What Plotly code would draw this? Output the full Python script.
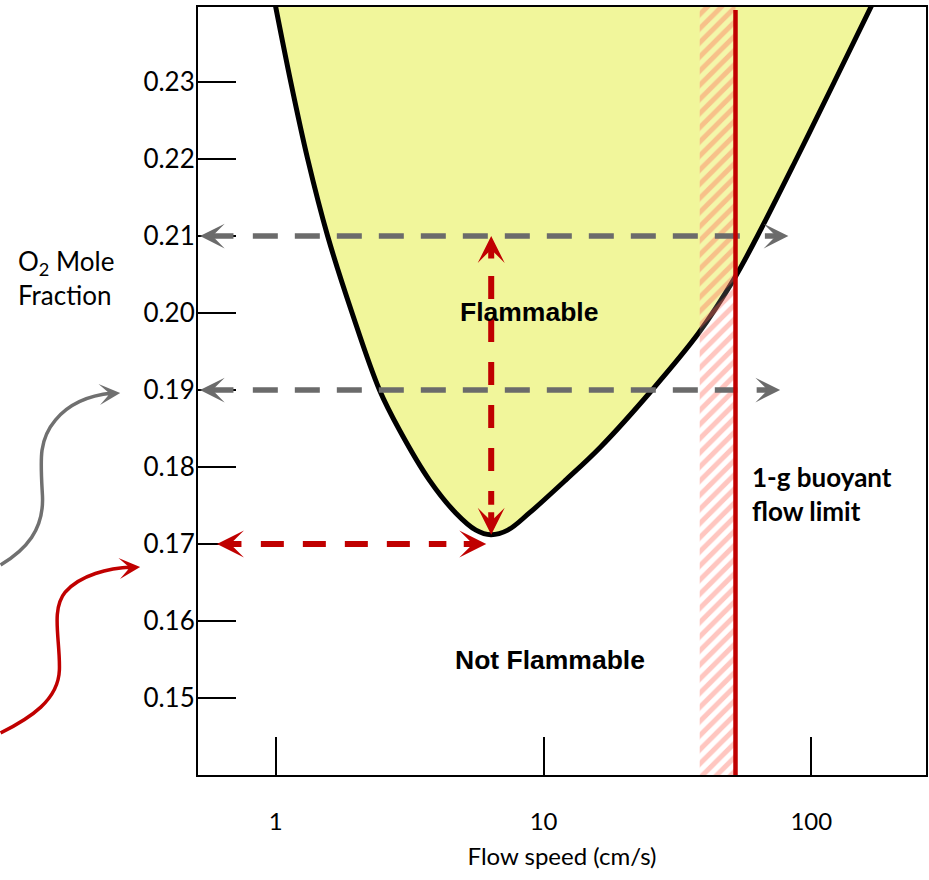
import numpy as np
import plotly.graph_objects as go

# ---- data ----
# flammability boundary (flow speed cm/s, O2 mole fraction)
curve_speed = [0.9337, 1.1374, 1.3156, 1.5619, 1.9275, 2.4398, 2.8964, 3.7458, 4.7098,
               5.5915, 6.3587, 7.35, 8.8308, 12.098, 16.332, 25.419, 37.944, 51.224,
               62.925, 87.935, 121.82, 197.86]
curve_o2 = [0.245, 0.23, 0.22, 0.21, 0.20, 0.19, 0.1848, 0.1783, 0.174,
            0.1718, 0.1712, 0.1718, 0.174, 0.1783, 0.1826, 0.19, 0.1974, 0.2043,
            0.21, 0.22, 0.23, 0.245]

buoyant_limit = 52.1          # 1-g buoyant flow limit (cm/s)
hatch_from = 38.3             # uncertainty band start (cm/s)

gray_levels = [0.21, 0.19]
gray_left = [0.521, 0.521]
gray_right = [82.1, 76.5]

red_level = 0.17
red_left, red_right = 0.603, 6.11
min_speed = 6.375
min_top, min_bottom = 0.21, 0.1712

x_tickvals = [1, 10, 100]
x_ticktext = ["1", "10", "100"]
y_tickvals = [0.15, 0.16, 0.17, 0.18, 0.19, 0.20, 0.21, 0.22, 0.23]
y_ticktext = ["0.15", "0.16", "0.17", "0.18", "0.19", "0.20", "0.21", "0.22", "0.23"]

Y_MIN, Y_MAX = 0.14, 0.23974
X_LOG_MIN, X_LOG_MAX = -0.2905, 2.4283
DEC_PX = 268.5     # pixels per decade
LVL_PX = 77.0      # pixels per 0.01

GRAY = "#6b6b6b"
RED = "#c00000"
YELLOW = "#f1f69b"

fig = go.Figure()

# flammable region
fig.add_trace(go.Scatter(
    x=curve_speed, y=curve_o2, mode="lines", fill="toself", fillcolor=YELLOW,
    line=dict(color="black", width=5, shape="spline", smoothing=1.0, simplify=False),
    hoverinfo="skip", showlegend=False))

# hatched uncertainty band
fig.add_trace(go.Scatter(
    x=[hatch_from, buoyant_limit, buoyant_limit, hatch_from, hatch_from],
    y=[Y_MIN, Y_MIN, Y_MAX, Y_MAX, Y_MIN], mode="lines", fill="toself",
    fillcolor="rgba(0,0,0,0)",
    fillpattern=dict(shape="/", size=10, solidity=0.5,
                     fgcolor="rgba(255,95,80,0.72)", bgcolor="rgba(255,255,255,0.15)",
                     fillmode="overlay"),
    line=dict(width=0), hoverinfo="skip", showlegend=False))


def shift(v, pix):
    return 10 ** (np.log10(v) + pix / DEC_PX)


# gray dashed horizontals
for lvl, xl, xr in zip(gray_levels, gray_left, gray_right):
    fig.add_trace(go.Scatter(
        x=[shift(xl, 53), shift(xr, -43)], y=[lvl, lvl], mode="lines",
        line=dict(color=GRAY, width=5.5, dash="25px,17px"),
        hoverinfo="skip", showlegend=False))

# red dashed horizontal
fig.add_trace(go.Scatter(
    x=[shift(red_left, 44), shift(red_right, -40)],
    y=[red_level, red_level], mode="lines",
    line=dict(color=RED, width=6, dash="23px,19px"),
    hoverinfo="skip", showlegend=False))

# red dashed vertical
fig.add_trace(go.Scatter(
    x=[min_speed, min_speed],
    y=[min_top - 40 / LVL_PX * 0.01, min_bottom + 30 / LVL_PX * 0.01], mode="lines",
    line=dict(color=RED, width=6, dash="23px,20px"),
    hoverinfo="skip", showlegend=False))

# buoyant limit line
fig.add_trace(go.Scatter(
    x=[buoyant_limit, buoyant_limit], y=[Y_MIN, Y_MAX - 0.0004], mode="lines",
    line=dict(color=RED, width=4.5), hoverinfo="skip", showlegend=False))

annotations = []


def arrow(xv, yv, ax, ay, color, width):
    annotations.append(dict(
        x=np.log10(xv), y=yv, xref="x", yref="y", text="", showarrow=True,
        ax=ax, ay=ay, axref="pixel", ayref="pixel", arrowhead=3,
        arrowsize=0.75, arrowwidth=width, arrowcolor=color, standoff=0))


for lvl, xl, xr in zip(gray_levels, gray_left, gray_right):
    arrow(xl, lvl, 35, 0, GRAY, 5.5)
    arrow(xr, lvl, -25, 0, GRAY, 5.5)
arrow(red_left, red_level, 26, 0, RED, 6)
arrow(red_right, red_level, -24, 0, RED, 6)
arrow(min_speed, min_top, 0, 24, RED, 6)
arrow(min_speed, min_bottom, 0, -24, RED, 6)


def px(xp):
    return (xp - 198) / 730


def py(yp):
    return (775 - yp) / 768


# curvy arrows outside the plot (paper coordinates)
def bez_path(pts):
    p = "M {:.4f},{:.4f}".format(px(pts[0][0]), py(pts[0][1]))
    for i in range(1, len(pts), 3):
        c = pts[i:i + 3]
        p += " C " + " ".join("{:.4f},{:.4f}".format(px(a), py(b)) for a, b in c)
    return p


gray_curve = [(0, 565), (25, 550), (44, 530), (42, 495), (40, 460), (38, 440),
              (55, 420), (70, 402), (92, 395), (112, 393)]
red_curve = [(0, 733), (30, 718), (58, 700), (59, 670), (60, 640), (50, 610),
             (65, 592), (80, 575), (108, 568), (132, 567)]
shapes = [
    dict(type="path", xref="paper", yref="paper", path=bez_path(gray_curve),
         line=dict(color="#707070", width=3.5), layer="above"),
    dict(type="path", xref="paper", yref="paper", path=bez_path(red_curve),
         line=dict(color=RED, width=3.5), layer="above"),
]
annotations.append(dict(x=px(120), y=py(393), xref="paper", yref="paper", text="",
                        showarrow=True, ax=-14, ay=1, arrowhead=3, arrowsize=1.0,
                        arrowwidth=3.5, arrowcolor="#707070", standoff=0))
annotations.append(dict(x=px(140), y=py(567), xref="paper", yref="paper", text="",
                        showarrow=True, ax=-14, ay=1, arrowhead=3, arrowsize=1.0,
                        arrowwidth=3.5, arrowcolor=RED, standoff=0))

# texts
annotations += [
    dict(x=px(530), y=py(312), xref="paper", yref="paper", text="<b>Flammable</b>",
         xanchor="center", yanchor="middle", showarrow=False,
         font=dict(family="Liberation Sans, Arial", size=26.5, color="black")),
    dict(x=px(551), y=py(660), xref="paper", yref="paper", text="<b>Not Flammable</b>",
         xanchor="center", yanchor="middle", showarrow=False,
         font=dict(family="Liberation Sans, Arial", size=26.5, color="black")),
    dict(x=px(752), y=py(494), xref="paper", yref="paper", xanchor="left", yanchor="middle",
         align="left", text="<b>1-g buoyant<br>flow limit</b>", showarrow=False,
         font=dict(family="Lato", size=26, color="black")),
    dict(x=px(16), y=py(278), xref="paper", yref="paper", xanchor="left", yanchor="middle",
         align="left", text="O<sub>2</sub> Mole<br>Fraction", showarrow=False,
         font=dict(family="Lato", size=26, color="black")),
]

fig.update_layout(
    width=929, height=880, margin=dict(l=198, r=1, t=7, b=105),
    paper_bgcolor="white", plot_bgcolor="white", showlegend=False,
    annotations=annotations, shapes=shapes,
    font=dict(family="Lato", size=24, color="black"),
)
fig.update_xaxes(
    type="log", range=[X_LOG_MIN, X_LOG_MAX], tickvals=x_tickvals, ticktext=x_ticktext,
    ticks="inside", ticklen=38, tickwidth=2, tickcolor="black",
    showline=True, linewidth=2, linecolor="black", mirror=True, showgrid=False,
    zeroline=False, ticklabelstandoff=24,
    title=dict(text="Flow speed (cm/s)", font=dict(size=24), standoff=14),
)
fig.update_yaxes(
    range=[Y_MIN, Y_MAX], tickvals=y_tickvals, ticktext=y_ticktext,
    ticks="inside", ticklen=38, tickwidth=2, tickcolor="black", tickfont=dict(size=26),
    showline=True, linewidth=2, linecolor="black", mirror=True, showgrid=False,
    zeroline=False, ticklabelstandoff=-4,
)

fig.write_html("out.html")
